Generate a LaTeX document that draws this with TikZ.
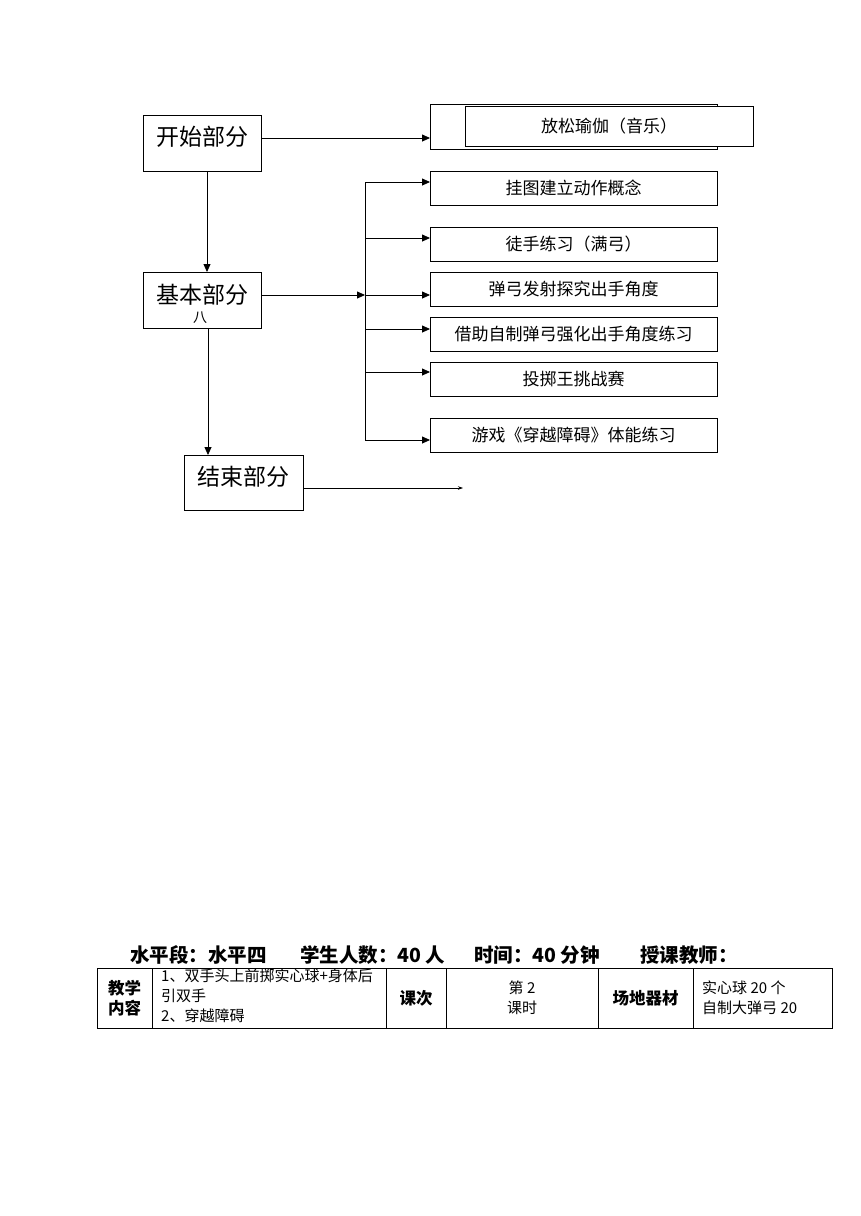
\documentclass[tikz,border=0pt]{standalone}
\usepackage{fontspec}
\setmainfont{Noto Sans CJK SC}
\usetikzlibrary{arrows.meta,calc}
\begin{document}
\begin{tikzpicture}[x=1pt,y=-1pt,
 box/.style={draw, line width=0.8pt, inner sep=0pt, outer sep=0pt, anchor=north west, fill=white},
 big/.style={inner sep=0pt, font=\fontsize{23}{27}\selectfont},
 item/.style={font=\fontsize{17}{20}\selectfont},
 arr/.style={-{Triangle[length=8pt,width=7pt]}, line width=0.8pt},
 thinarr/.style={-{Stealth[length=5pt,width=3.5pt]}, line width=0.7pt},
 hdr/.style={anchor=west, inner sep=0pt, font=\bfseries\fontsize{19.5}{22}\selectfont},
 cell/.style={draw, line width=0.7pt, inner sep=0pt, outer sep=0pt, anchor=north west, minimum height=60pt},
 cb/.style={font=\bfseries\fontsize{16.5}{20}\selectfont, align=center},
 cs/.style={font=\fontsize{15}{20}\selectfont},
 ]
\useasboundingbox (0,0) rectangle (860,1216);
% main column
\node[box,minimum width=118pt,minimum height=56pt] (start) at (143,115) {};
\node[big] (starttxt) at (202,137) {开始部分};
\node[box,minimum width=118pt,minimum height=56pt] (basic) at (143,272) {};
\node[big] (basictxt) at (202,295) {基本部分};
\node[inner sep=0pt,font=\fontsize{14}{16}\selectfont] (ba) at (200,318) {八};
\node[box,minimum width=119pt,minimum height=55pt] (finish) at (184,455) {};
\node[big] (finishtxt) at (243,477) {结束部分};
% right boxes
\node[box,minimum width=287pt,minimum height=45pt] (relaxbg) at (430,104) {};
\node[box,item,minimum width=288pt,minimum height=40pt] (relax) at (465,106) {放松瑜伽（音乐）};
\node[box,item,minimum width=287pt,minimum height=34pt] (b1) at (430,171) {挂图建立动作概念};
\node[box,item,minimum width=287pt,minimum height=34pt] (b2) at (430,227) {徒手练习（满弓）};
\node[box,item,minimum width=287pt,minimum height=34pt] (b3) at (430,272) {弹弓发射探究出手角度};
\node[box,item,minimum width=287pt,minimum height=34pt] (b4) at (430,317) {借助自制弹弓强化出手角度练习};
\node[box,item,minimum width=287pt,minimum height=34pt] (b5) at (430,362) {投掷王挑战赛};
\node[box,item,minimum width=287pt,minimum height=34pt] (b6) at (430,418) {游戏《穿越障碍》体能练习};
% coordinates
\coordinate (s1) at (261,138);
\coordinate (v1) at (207,171);
\coordinate (v2) at (208,328);
\coordinate (c1) at (365,182);
\coordinate (c2) at (365,238);
\coordinate (c3) at (365,295);
\coordinate (c4) at (365,329);
\coordinate (c5) at (365,372);
\coordinate (c6) at (365,440);
\coordinate (endtip) at (463,488);
% connectors
\draw[arr] (s1) -- (s1 -| relaxbg.west);
\draw[arr] (v1) -- (v1 |- basic.north);
\draw[arr] (v2) -- (v2 |- finish.north);
\draw[arr] (basic.east |- c3) -- (c3);
\draw[line width=0.8pt] (c1) -- (c6);
\draw[arr] (c1) -- (c1 -| b1.west);
\draw[arr] (c2) -- (c2 -| b2.west);
\draw[arr] (c3) -- (c3 -| b3.west);
\draw[arr] (c4) -- (c4 -| b4.west);
\draw[arr] (c5) -- (c5 -| b5.west);
\draw[arr] (c6) -- (c6 -| b6.west);
\draw[thinarr] (finish.east |- endtip) -- (endtip);
% header
\node[hdr] (h1) at (130,955) {水平段：水平四};
\node[hdr] (h2) at (300,955) {学生人数：40 人};
\node[hdr] (h3) at (474,955) {时间：40 分钟};
\node[hdr] (h4) at (640,955) {授课教师：};
% table
\node[cell,cb,minimum width=55pt] (t1) at (97,968) {教学\\内容};
\node[cell,minimum width=234pt] (t2) at (152,968) {};
\node[cs,anchor=north west,inner sep=0pt,align=left] (t2txt) at (161,969) {1、双手头上前掷实心球+身体后\\引双手\\2、穿越障碍};
\node[cell,cb,minimum width=60pt] (t3) at (386,968) {课次};
\node[cell,cs,align=center,minimum width=152pt] (t4) at (446,968) {第 2\\课时};
\node[cell,cb,minimum width=95pt] (t5) at (598,968) {场地器材};
\node[cell,minimum width=139pt] (t6) at (693,968) {};
\node[cs,anchor=west,inner sep=0pt,align=left] (t6txt) at (702,998) {实心球 20 个\\自制大弹弓 20};
\end{tikzpicture}
\end{document}
